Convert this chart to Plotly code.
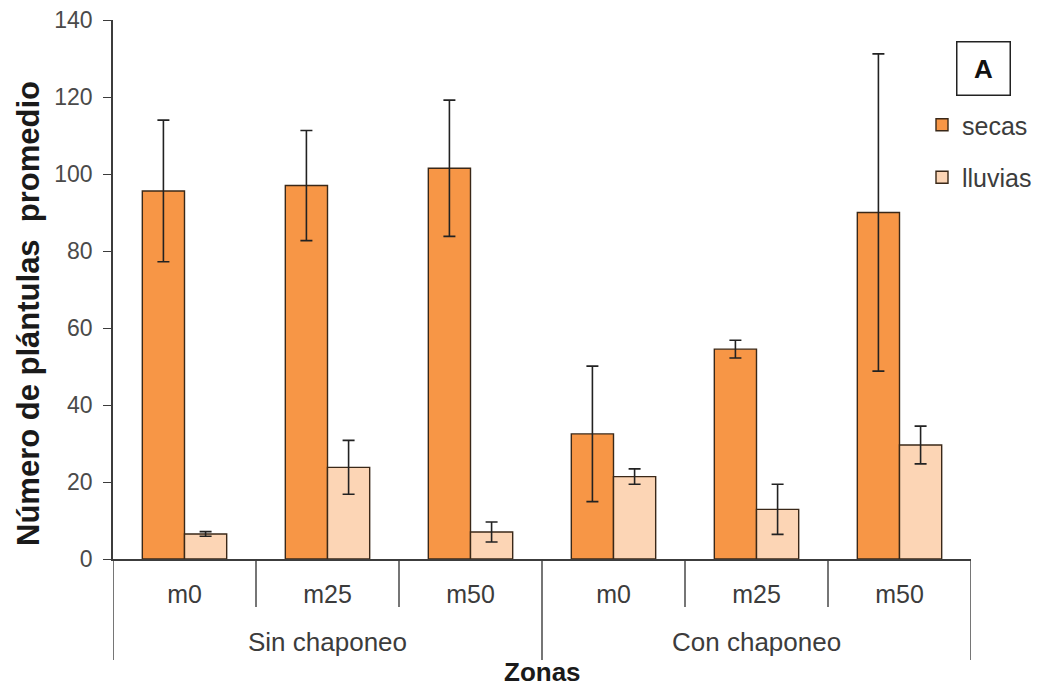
import plotly.graph_objects as go

# Zonas: dos condiciones de manejo, tres distancias cada una
condiciones = ["Sin chaponeo", "Con chaponeo"]
distancias = ["m0", "m25", "m50", "m0", "m25", "m50"]

# Número promedio de plántulas y su error
secas = [95.6, 97.0, 101.5, 32.5, 54.5, 90.0]
secas_err = [18.4, 14.3, 17.7, 17.6, 2.3, 41.2]
lluvias = [6.5, 23.8, 7.0, 21.4, 12.9, 29.6]
lluvias_err = [0.6, 7.0, 2.6, 2.0, 6.5, 4.9]

pos = list(range(len(distancias)))

FONT = "Liberation Sans, Arial, sans-serif"
INK = "#3c3c3c"
EDGE = "#3a2818"

W, H = 1039, 689
L, R, T, B = 113, 68, 20, 130
pw, ph = W - L - R, H - T - B


def px_x(px):
    return (px - L) / pw


def px_y(px):
    return (H - B - px) / ph


fig = go.Figure()
fig.add_trace(go.Bar(
    name="secas", x=pos, y=secas, legendgroup="s",
    marker=dict(color="#F79646", line=dict(color=EDGE, width=1.4)),
    error_y=dict(type="data", array=secas_err, visible=True,
                 color="#222222", thickness=1.6, width=6),
))
fig.add_trace(go.Bar(
    name="lluvias", x=pos, y=lluvias, legendgroup="l",
    marker=dict(color="#FCD5B5", line=dict(color=EDGE, width=1.4)),
    error_y=dict(type="data", array=lluvias_err, visible=True,
                 color="#222222", thickness=1.6, width=6),
))

# líneas divisorias bajo el eje de categorías
shapes = []
for xv in [0.5, 1.5, 3.5, 4.5]:
    shapes.append(dict(type="line", xref="x", yref="paper", x0=xv, x1=xv,
                       y0=0, y1=px_y(607), line=dict(color=INK, width=1.4)))
for xv in [-0.5, 2.5, 5.5]:
    shapes.append(dict(type="line", xref="x", yref="paper", x0=xv, x1=xv,
                       y0=0, y1=px_y(660), line=dict(color=INK, width=1.4)))

annotations = []
for i, c in enumerate(condiciones):
    annotations.append(dict(text=c, x=1 + 3 * i, xref="x", y=px_y(642), yref="paper",
                            showarrow=False, yanchor="middle",
                            font=dict(family=FONT, size=26, color=INK)))
annotations.append(dict(text="<b>Zonas</b>", x=2.5, xref="x", y=px_y(672), yref="paper",
                        showarrow=False, yanchor="middle",
                        font=dict(family=FONT, size=26, color="#1a1a1a")))
annotations.append(dict(text="<b>Número de plántulas  promedio</b>", textangle=-90,
                        x=px_x(28), xref="paper", y=px_y(314), yref="paper",
                        xanchor="center", yanchor="middle", showarrow=False,
                        font=dict(family=FONT, size=31, color="#1a1a1a")))
annotations.append(dict(text="<b>A</b>", x=px_x(983), xref="paper", y=px_y(68), yref="paper",
                        xanchor="center", yanchor="middle",
                        showarrow=False, width=48, height=48, borderpad=2,
                        bordercolor="#222222", borderwidth=1.5,
                        font=dict(family=FONT, size=26, color="#111111")))

fig.update_layout(
    width=W, height=H,
    margin=dict(l=L, r=R, t=T, b=B, autoexpand=False),
    paper_bgcolor="white", plot_bgcolor="white",
    barmode="group", bargap=0.41, bargroupgap=0,
    font=dict(family=FONT, color=INK),
    showlegend=True,
    legend=dict(x=px_x(922), xanchor="left", y=px_y(102), yanchor="top",
                font=dict(family=FONT, size=25, color=INK),
                itemwidth=30, tracegroupgap=17, traceorder="grouped",
                bgcolor="rgba(0,0,0,0)"),
    shapes=shapes,
    annotations=annotations,
    xaxis=dict(range=[-0.5, 5.5], tickvals=pos, ticktext=distancias,
               showline=True, linecolor=INK, linewidth=1.6,
               ticks="", showgrid=False, zeroline=False, ticklabelstandoff=12,
               tickfont=dict(family=FONT, size=25, color=INK)),
    yaxis=dict(range=[0, 140], dtick=20, tick0=0,
               showline=True, linecolor=INK, linewidth=1.6,
               ticks="outside", ticklen=8, tickcolor=INK, tickwidth=1.4,
               showgrid=False, zeroline=False, ticklabelstandoff=6,
               tickfont=dict(family=FONT, size=23, color="#4a4a4a")),
)

fig.write_html("out.html")
